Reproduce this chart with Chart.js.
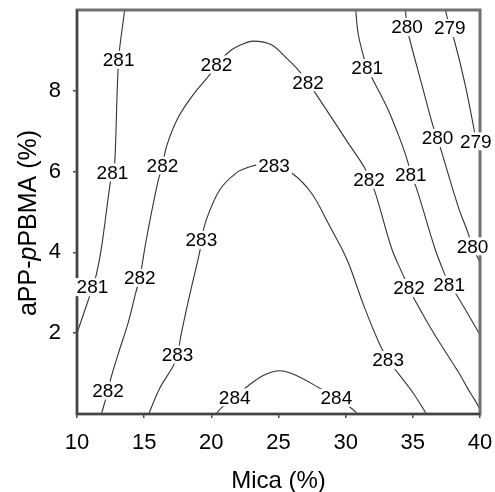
<!DOCTYPE html>
<html>
<head>
<meta charset="utf-8">
<script src="https://cdn.jsdelivr.net/npm/chart.js@4"></script>
<style>
  body { margin: 0; background: #fff; }
  #wrap { width: 495px; height: 492px; }
</style>
</head>
<body>
<div id="wrap"><canvas id="contourChart"></canvas></div>
<script>
// Ticks
const xTicks = [10, 15, 20, 25, 30, 35, 40];
const yTicks = [2, 4, 6, 8];

// Contour lines (Mica %, aPP-pPBMA %)
const c281Left_x = [13.55, 13.1, 12.81, 12.64, 12.49, 11.82, 11.44, 11.15, 10.89, 10.03];
const c281Left_y = [10.0, 8.77, 6.22, 5.98, 5.76, 4.11, 3.45, 3.14, 2.87, 2.03];

const c282_x = [11.82, 12.31, 12.56, 13.05, 13.8, 14.37, 14.67, 14.87, 15.09, 15.54, 16.03, 16.36, 16.66, 17.52, 18.64, 19.88, 20.38, 21.37, 22.3, 23.1, 24.47, 25.71, 26.46, 27.2, 27.83, 29.06, 30.18, 31.42, 31.74, 32.17, 33.41, 34.15, 34.72, 35.14, 36.63, 38.37, 39.07, 39.61, 40.0];
const c282_y = [0, 0.58, 0.93, 1.47, 2.25, 3.0, 3.37, 3.74, 4.19, 4.98, 5.76, 6.15, 6.62, 7.33, 7.9, 8.4, 8.65, 8.98, 9.15, 9.23, 9.14, 8.77, 8.52, 8.21, 7.9, 7.28, 6.71, 6.09, 5.8, 5.51, 4.11, 3.53, 3.12, 2.83, 1.96, 1.05, 0.64, 0.35, 0.12];

const c283_x = [15.34, 16.16, 17.15, 17.48, 17.77, 18.39, 19.14, 19.26, 19.63, 20.63, 21.87, 22.86, 23.7, 24.67, 25.96, 27.45, 28.69, 29.56, 29.88, 30.31, 31.42, 32.54, 33.16, 33.9, 35.02, 36.02];
const c283_y = [0, 0.64, 1.18, 1.47, 2.0, 2.95, 4.02, 4.31, 4.81, 5.55, 5.97, 6.12, 6.18, 6.15, 5.97, 5.47, 4.73, 4.19, 3.98, 3.65, 2.62, 1.72, 1.34, 1.01, 0.52, 0];

const c284_x = [20.33, 20.75, 21.74, 22.86, 23.98, 25.09, 26.21, 28.07, 29.31, 30.55, 30.88];
const c284_y = [0, 0.15, 0.41, 0.73, 0.97, 1.07, 0.97, 0.64, 0.4, 0.11, 0];

const c281Right_x = [30.75, 30.92, 31.3, 31.6, 32.04, 33.16, 34.15, 34.65, 34.85, 35.27, 36.63, 37.38, 37.7, 38.25, 40.0];
const c281Right_y = [10.0, 9.43, 8.89, 8.56, 8.27, 7.53, 6.71, 6.21, 5.92, 5.59, 4.11, 3.45, 3.2, 2.95, 1.96];

const c280_x = [34.45, 34.57, 34.77, 35.64, 36.51, 36.84, 37.13, 38.37, 39.11, 39.44, 40.0];
const c280_y = [10.0, 9.58, 9.27, 8.19, 7.12, 6.83, 6.5, 5.14, 4.48, 4.15, 3.75];

const c279_x = [37.43, 37.75, 38.07, 38.87, 39.56, 39.69, 40.0, 40.0];
const c279_y = [10.0, 9.55, 9.27, 8.19, 7.04, 6.75, 6.45, 0];

// Contour labels
const labelText = ['281', '281', '281', '282', '282', '282', '282', '282', '282', '282',
                   '283', '283', '283', '283', '284', '284',
                   '281', '281', '281', '280', '280', '280', '279', '279'];
const labelX = [13.1, 12.64, 11.15, 12.31, 14.67, 16.36, 20.38, 27.2, 31.74, 34.72,
                17.48, 19.26, 24.67, 33.16, 21.74, 29.31,
                31.6, 34.85, 37.7, 34.57, 36.84, 39.44, 37.75, 39.69];
const labelY = [8.77, 5.98, 3.14, 0.58, 3.37, 6.15, 8.65, 8.21, 5.8, 3.12,
                1.47, 4.31, 6.15, 1.34, 0.41, 0.4,
                8.56, 5.92, 3.2, 9.58, 6.83, 4.15, 9.55, 6.75];

function toPoints(xs, ys) {
    return xs.map((x, i) => ({ x: x, y: ys[i] }));
}

function lineSet(xs, ys) {
    return {
        data: toPoints(xs, ys),
        showLine: true,
        borderColor: '#333',
        borderWidth: 1.1,
        pointRadius: 0,
        tension: 0.35,
        clip: 2
    };
}

const FONT = "'Liberation Sans', Arial, sans-serif";

// no automatic label overflow padding, so the plot box sits where it should
function noPad(s) {
    s.paddingTop = 0;
    s.paddingBottom = 0;
    s.paddingLeft = 0;
    s.paddingRight = 0;
}

// box edges, contour labels and axis titles (y title has an italic p)
const decorPlugin = {
    id: 'decor',
    afterDraw(chart) {
        const ctx = chart.ctx;
        const a = chart.chartArea;
        const xs = chart.scales.x;
        const ys = chart.scales.y;
        ctx.save();

        ctx.strokeStyle = '#707070';
        ctx.lineWidth = 3;
        ctx.strokeRect(a.left, a.top, a.right - a.left, a.bottom - a.top);
        ctx.strokeStyle = '#444';
        ctx.lineWidth = 2;
        ctx.beginPath();
        ctx.moveTo(a.left, a.top);
        ctx.lineTo(a.left, a.bottom);
        ctx.lineTo(a.right, a.bottom);
        ctx.stroke();

        ctx.font = '19px ' + FONT;
        ctx.textAlign = 'center';
        ctx.textBaseline = 'middle';
        labelText.forEach((t, i) => {
            const px = xs.getPixelForValue(labelX[i]);
            const py = ys.getPixelForValue(labelY[i]);
            const w = ctx.measureText(t).width + 4;
            ctx.fillStyle = '#fff';
            ctx.fillRect(px - w / 2, py - 9, w, 18);
            ctx.fillStyle = '#000';
            ctx.fillText(t, px, py + 1);
        });

        // x title
        ctx.fillStyle = '#000';
        ctx.font = '24px ' + FONT;
        ctx.textAlign = 'center';
        ctx.textBaseline = 'alphabetic';
        ctx.fillText('Mica (%)', (a.left + a.right) / 2, 488);

        // y title
        const parts = [['aPP-', 'normal'], ['p', 'italic'], ['PBMA (%)', 'normal']];
        ctx.translate(36, 223);
        ctx.rotate(-Math.PI / 2);
        let total = 0;
        parts.forEach(p => { ctx.font = p[1] + ' 25px ' + FONT; total += ctx.measureText(p[0]).width; });
        let x = -total / 2;
        ctx.textAlign = 'left';
        parts.forEach(p => {
            ctx.font = p[1] + ' 25px ' + FONT;
            ctx.fillText(p[0], x, 0);
            x += ctx.measureText(p[0]).width;
        });
        ctx.restore();
    }
};

new Chart(document.getElementById('contourChart'), {
    type: 'scatter',
    data: {
        datasets: [
            lineSet(c281Left_x, c281Left_y),
            lineSet(c282_x, c282_y),
            lineSet(c283_x, c283_y),
            lineSet(c284_x, c284_y),
            lineSet(c281Right_x, c281Right_y),
            lineSet(c280_x, c280_y),
            lineSet(c279_x, c279_y)
        ]
    },
    options: {
        responsive: true,
        maintainAspectRatio: false,
        animation: false,
        layout: { padding: { top: 10, right: 15, left: 0, bottom: 0 } },
        plugins: { legend: { display: false }, tooltip: { enabled: false } },
        scales: {
            x: {
                type: 'linear',
                min: 10,
                max: 40,
                afterBuildTicks: (s) => { s.ticks = xTicks.map(v => ({ value: v })); },
                afterFit: (s) => { s.height = 78; noPad(s); },
                grid: { drawOnChartArea: false, drawTicks: true, tickLength: 4, color: '#444', lineWidth: 1.5 },
                border: { display: true, color: '#444', width: 1.5 },
                ticks: { color: '#000', padding: 12, font: { family: FONT, size: 22 }, maxRotation: 0 }
            },
            y: {
                type: 'linear',
                min: 0,
                max: 10,
                afterBuildTicks: (s) => { s.ticks = yTicks.map(v => ({ value: v })); },
                afterFit: (s) => { s.width = 77; noPad(s); },
                grid: { drawOnChartArea: false, drawTicks: true, tickLength: 4, color: '#444', lineWidth: 1.5 },
                border: { display: true, color: '#444', width: 1.5 },
                ticks: { color: '#000', padding: 12, font: { family: FONT, size: 22 } }
            }
        }
    },
    plugins: [decorPlugin]
});
</script>
</body>
</html>
